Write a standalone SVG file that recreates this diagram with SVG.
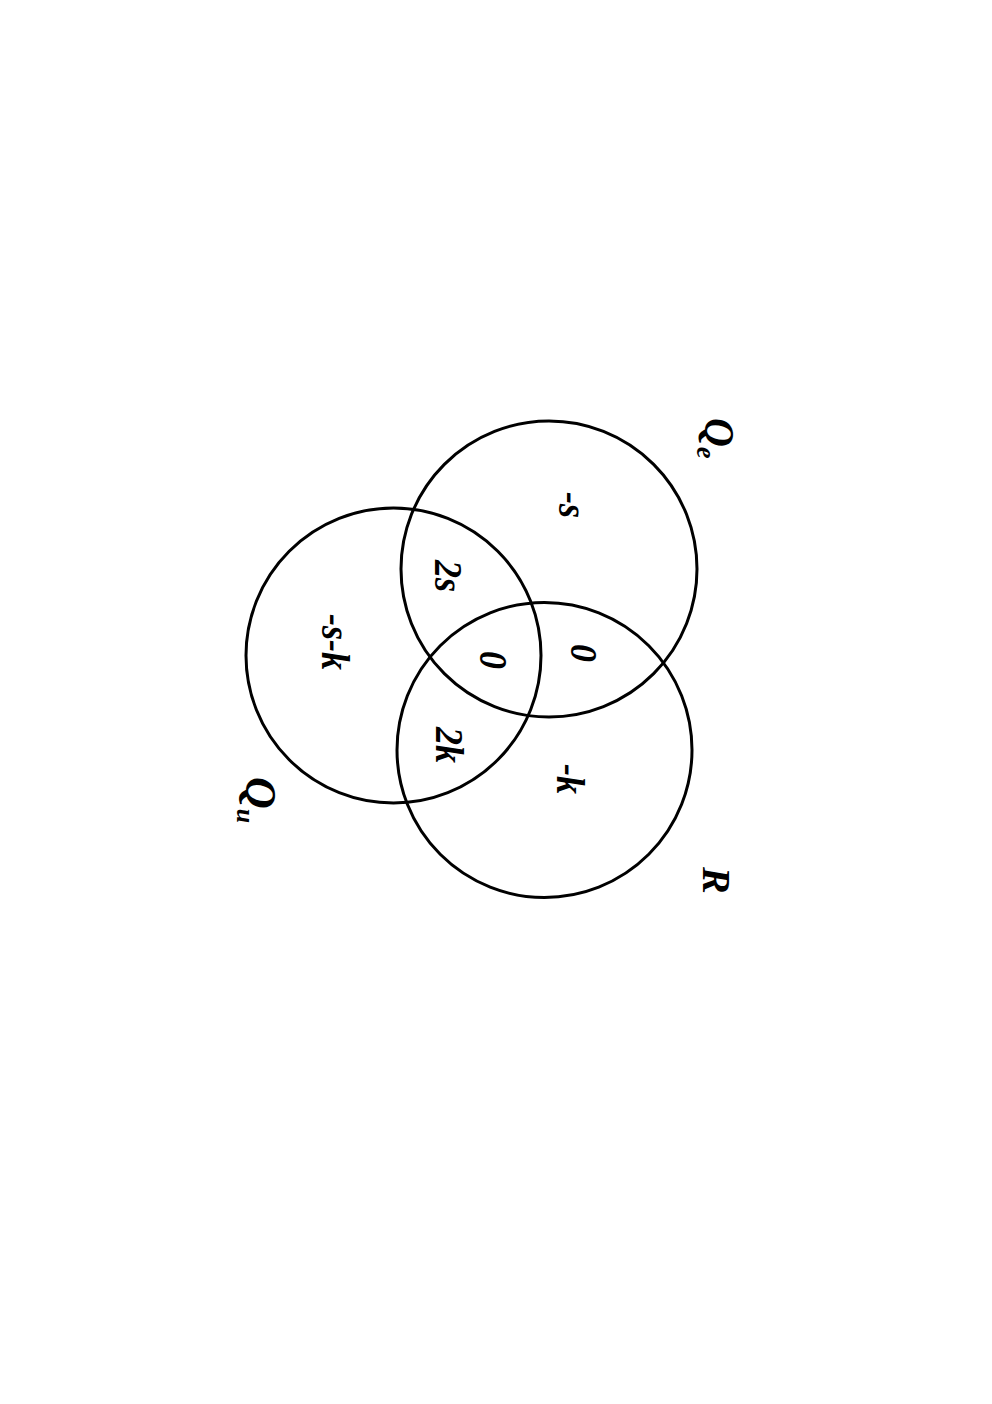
<svg xmlns="http://www.w3.org/2000/svg" width="992" height="1404" viewBox="0 0 992 1404">
<style>
.c{fill:none;stroke:#000;stroke-width:3}
.t{font-family:"Liberation Serif","Times New Roman",serif;font-weight:bold;font-style:italic;fill:#000}
.v{font-size:36px;text-anchor:middle}
.l{font-size:40px}
.s{font-size:26px}
</style>
<rect width="992" height="1404" fill="#fff"/>
<g id="circles">
<circle id="circle-qe" class="c" cx="549" cy="569" r="148"/>
<circle id="circle-qu" class="c" cx="393.5" cy="655.5" r="147.5"/>
<circle id="circle-r" class="c" cx="544.5" cy="750" r="147.5"/>
</g>
<g id="values" class="t v">
<text transform="translate(570,505) rotate(90) scale(1,1.12)" y="10">-s</text>
<text transform="translate(448,576) rotate(90) scale(1,1.12)" y="12">2s</text>
<text transform="translate(334,642) rotate(90) scale(1,1.12)" y="11">-s-k</text>
<text transform="translate(584,653) rotate(90) scale(1,1.05)" y="12">0</text>
<text transform="translate(493,660) rotate(90) scale(1,1.12)" y="12">0</text>
<text transform="translate(449,745) rotate(90) scale(1,1.12)" y="12">2k</text>
<text transform="translate(569,779) rotate(90) scale(1,1.12)" y="11">-k</text>
</g>
<g id="labels" class="t">
<text id="label-qe" class="l" transform="translate(705,418) rotate(90) scale(1,1.05)">Q<tspan class="s" dy="8">e</tspan></text>
<text id="label-qu" class="l" transform="translate(246,777) rotate(90)" style="font-size:44px">Q<tspan class="s" dy="9">u</tspan></text>
<text id="label-r" class="l" transform="translate(703,867) rotate(90)">R</text>
</g>
</svg>
